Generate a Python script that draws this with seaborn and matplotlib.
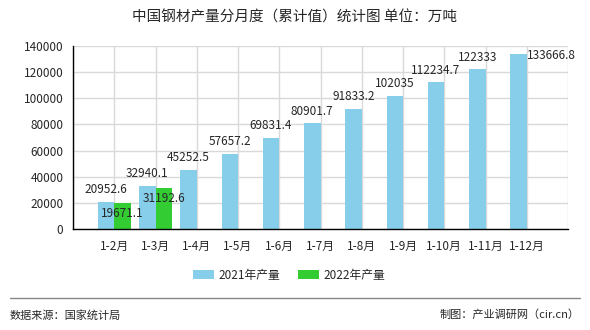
import matplotlib
matplotlib.use("Agg")
import matplotlib.pyplot as plt
import seaborn as sns
import pandas as pd
from matplotlib.lines import Line2D

months = ["1-2月", "1-3月", "1-4月", "1-5月", "1-6月", "1-7月", "1-8月",
          "1-9月", "1-10月", "1-11月", "1-12月"]
values_2021 = [20952.6, 32940.1, 45252.5, 57657.2, 69831.4, 80901.7, 91833.2,
               102035, 112234.7, 122333, 133666.8]
months_2022 = ["1-2月", "1-3月"]
values_2022 = [19671.1, 31192.6]
label_2021 = ["20952.6", "32940.1", "45252.5", "57657.2", "69831.4", "80901.7",
              "91833.2", "102035", "112234.7", "122333", "133666.8"]
label_2022 = ["19671.1", "31192.6"]
series = ["2021年产量", "2022年产量"]
colors = ["#87CEEB", "#33CC33"]
yticks = [0, 20000, 40000, 60000, 80000, 100000, 120000, 140000]

df = pd.DataFrame({
    "month": months + months_2022,
    "value": values_2021 + values_2022,
    "series": [series[0]] * len(months) + [series[1]] * len(months_2022),
})

sns.set_style("white")
plt.rcParams["font.family"] = ["Noto Sans CJK SC", "DejaVu Sans"]

fig = plt.figure(figsize=(5.9, 3.3), dpi=100)
ax = fig.add_axes([73 / 590, 101 / 330, 495 / 590, 183 / 330])

sns.barplot(data=df, x="month", y="value", hue="series", order=months,
            hue_order=series, palette=colors, width=0.8, saturation=1,
            errorbar=None, ax=ax, legend=True, zorder=2, linewidth=0,
            edgecolor="none")

ax.set_xlim(-1, 11)
ax.set_ylim(0, 140000)
ax.set_yticks(yticks)
ax.set_yticklabels([str(v) for v in yticks], fontsize=8.5)
ax.set_xticks(range(-1, 12))
ax.set_xticklabels([""] + months + [""], fontsize=8.5)
ax.set_xlabel("")
ax.set_ylabel("")
ax.grid(True, color="#d9d9d9", linewidth=1, zorder=0)
ax.set_axisbelow(True)
for s in ["top", "right"]:
    ax.spines[s].set_visible(False)
for s in ["left", "bottom"]:
    ax.spines[s].set_color("black")
    ax.spines[s].set_linewidth(1)
ax.tick_params(axis="both", which="both", length=4, width=1, color="black",
               direction="out", pad=3)
ax.tick_params(axis="x", pad=4)

# value labels
for patch, txt in zip(ax.containers[0], label_2021):
    cx = patch.get_x() + patch.get_width() / 2
    top = patch.get_height()
    if top > 0.9 * 140000:
        ax.annotate(txt, (patch.get_x() + patch.get_width(), top),
                    xytext=(0, -1), textcoords="offset pixels",
                    ha="left", va="center", fontsize=8.5, zorder=5)
    else:
        ax.annotate(txt, (cx, top), xytext=(0, 12), textcoords="offset pixels",
                    ha="center", va="center", fontsize=8.5, zorder=5)
for patch, txt in zip(ax.containers[1], label_2022):
    cx = patch.get_x() + patch.get_width() / 2
    top = patch.get_height()
    ax.annotate(txt, (cx, top), xytext=(0, -10), textcoords="offset pixels",
                ha="center", va="center", fontsize=8.5, zorder=5)

# legend
handles, labels = ax.get_legend_handles_labels()
ax.get_legend().remove()
fig.legend(handles, labels, loc="center", bbox_to_anchor=(0.49, 1 - 275 / 330),
           ncol=2, frameon=False, fontsize=8.5, handlelength=1.8,
           handleheight=0.8, columnspacing=1.5, handletextpad=0.4)

# title
fig.text(0.5, 1 - 18 / 330, "中国钢材产量分月度（累计值）统计图 单位：万吨",
         ha="center", va="center", fontsize=10.5)

# footer
fig.add_artist(Line2D([10 / 590, 580 / 590], [1 - 298 / 330, 1 - 298 / 330],
                      color="#888888", linewidth=1))
fig.text(10 / 590, 1 - 315 / 330, "数据来源：国家统计局", ha="left",
         va="center", fontsize=8)
fig.text(580 / 590, 1 - 315 / 330, "制图：产业调研网（cir.cn）", ha="right",
         va="center", fontsize=8)

fig.savefig("out.png", dpi=100)
